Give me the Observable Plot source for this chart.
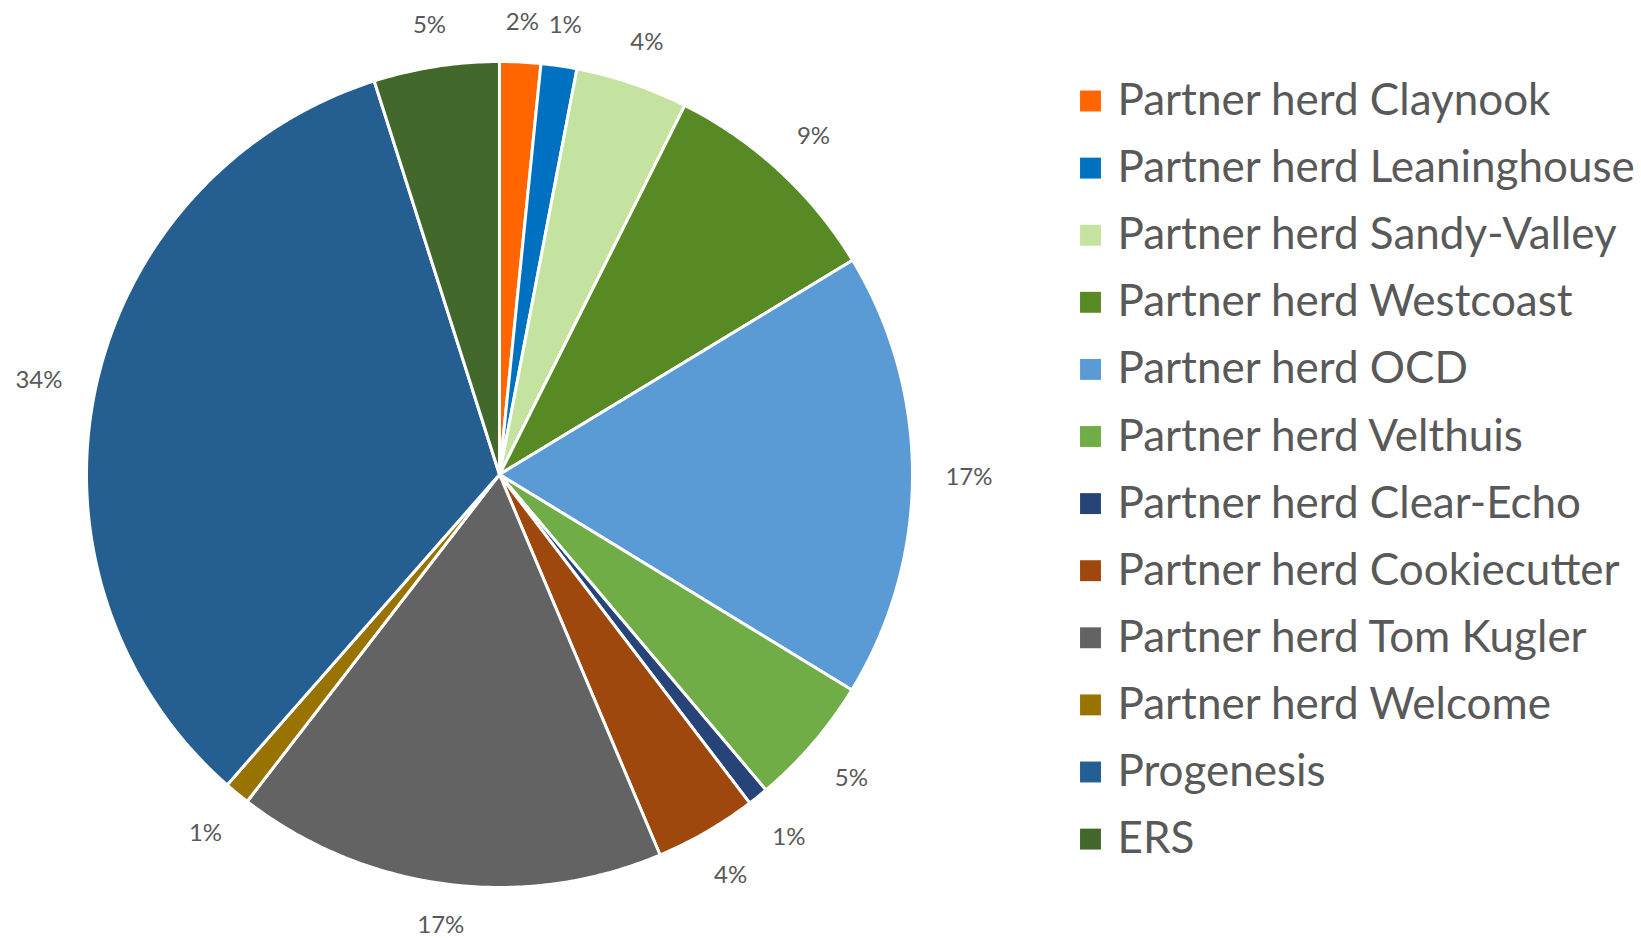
<!DOCTYPE html>
<html>
<head>
<meta charset="utf-8">
<script src="https://cdn.jsdelivr.net/npm/d3@7"></script>
<script src="https://cdn.jsdelivr.net/npm/@observablehq/plot@0.6"></script>
<style>
  html, body { margin: 0; padding: 0; background: #fff; }
  svg { display: block; }
</style>
</head>
<body>
<div id="chart"></div>
<script>
// ---- Data ----
const categories = [
  "Partner herd Claynook",
  "Partner herd Leaninghouse",
  "Partner herd Sandy-Valley",
  "Partner herd Westcoast",
  "Partner herd OCD",
  "Partner herd Velthuis",
  "Partner herd Clear-Echo",
  "Partner herd Cookiecutter",
  "Partner herd Tom Kugler",
  "Partner herd Welcome",
  "Progenesis",
  "ERS"
];
const shares = [1.6, 1.4, 4.4, 8.9, 17.4, 5.1, 0.8, 4.0, 16.8, 1.0, 33.6, 4.9];
const colors = ["#FF6600", "#0070C0", "#C5E3A0", "#578A24", "#5B9BD5", "#70AD47",
                "#264478", "#9E480E", "#636363", "#997300", "#255E91", "#43682B"];

// ---- Layout ----
const W = 1641, H = 938;
const cx = 499, cy = 474, R = 413;
const labelR = 446, labelFont = 24;
const legendX = 1090, legendY0 = 100.5, legendStep = 67.1, legendFont = 44;

const total = d3.sum(shares);
const pie = d3.pie().sort(null).value(d => d)(shares);

// slice polygons (center + arc samples), angles clockwise from 12 o'clock
const slicePts = [];
pie.forEach((p, i) => {
  const name = categories[i];
  slicePts.push({name, x: cx, y: cy});
  const n = Math.max(2, Math.ceil((p.endAngle - p.startAngle) / (Math.PI / 360)));
  for (let k = 0; k <= n; k++) {
    const a = p.startAngle + (p.endAngle - p.startAngle) * k / n;
    slicePts.push({name, x: cx + R * Math.sin(a), y: cy - R * Math.cos(a)});
  }
});

// percentage labels outside the slices
const labels = pie.map((p, i) => {
  const a = (p.startAngle + p.endAngle) / 2;
  const text = Math.round(shares[i] / total * 100) + "%";
  const digits = text.length - 1;
  const hw = (digits * 0.55 + 0.85) * labelFont / 2;
  const hh = 0.32 * labelFont;
  const s = Math.sin(a), c = Math.cos(a);
  const d = labelR + Math.abs(s) * hw + Math.abs(c) * hh;
  const y = Math.min(cy - d * c + 2, H - labelFont * 0.5 - 1);
  return {text, x: cx + d * s, y};
});

const legend = categories.map((name, i) => ({name, x: legendX, y: legendY0 + i * legendStep}));

const chart = Plot.plot({
  width: W,
  height: H,
  margin: 0,
  style: {fontFamily: "Lato, 'Open Sans', sans-serif", background: "#fff"},
  x: {domain: [0, W], range: [0, W], axis: null},
  y: {domain: [0, H], range: [0, H], axis: null},
  color: {domain: categories, range: colors},
  marks: [
    Plot.line(slicePts, {
      x: "x", y: "y", z: "name", fill: "name",
      stroke: "white", strokeWidth: 3, strokeLinejoin: "round",
      curve: "linear-closed"
    }),
    Plot.text(labels, {
      x: "x", y: "y", text: "text",
      fontSize: labelFont, fill: "#595959", textAnchor: "middle", lineAnchor: "middle"
    }),
    Plot.dot(legend, {
      x: "x", y: "y", fill: "name", symbol: "square", r: 11.8, stroke: null
    }),
    Plot.text(legend, {
      x: "x", y: "y", text: "name", dx: 27,
      fontSize: legendFont, fill: "#595959", textAnchor: "start", lineAnchor: "middle"
    })
  ]
});
document.getElementById("chart").appendChild(chart);
</script>
</body>
</html>
